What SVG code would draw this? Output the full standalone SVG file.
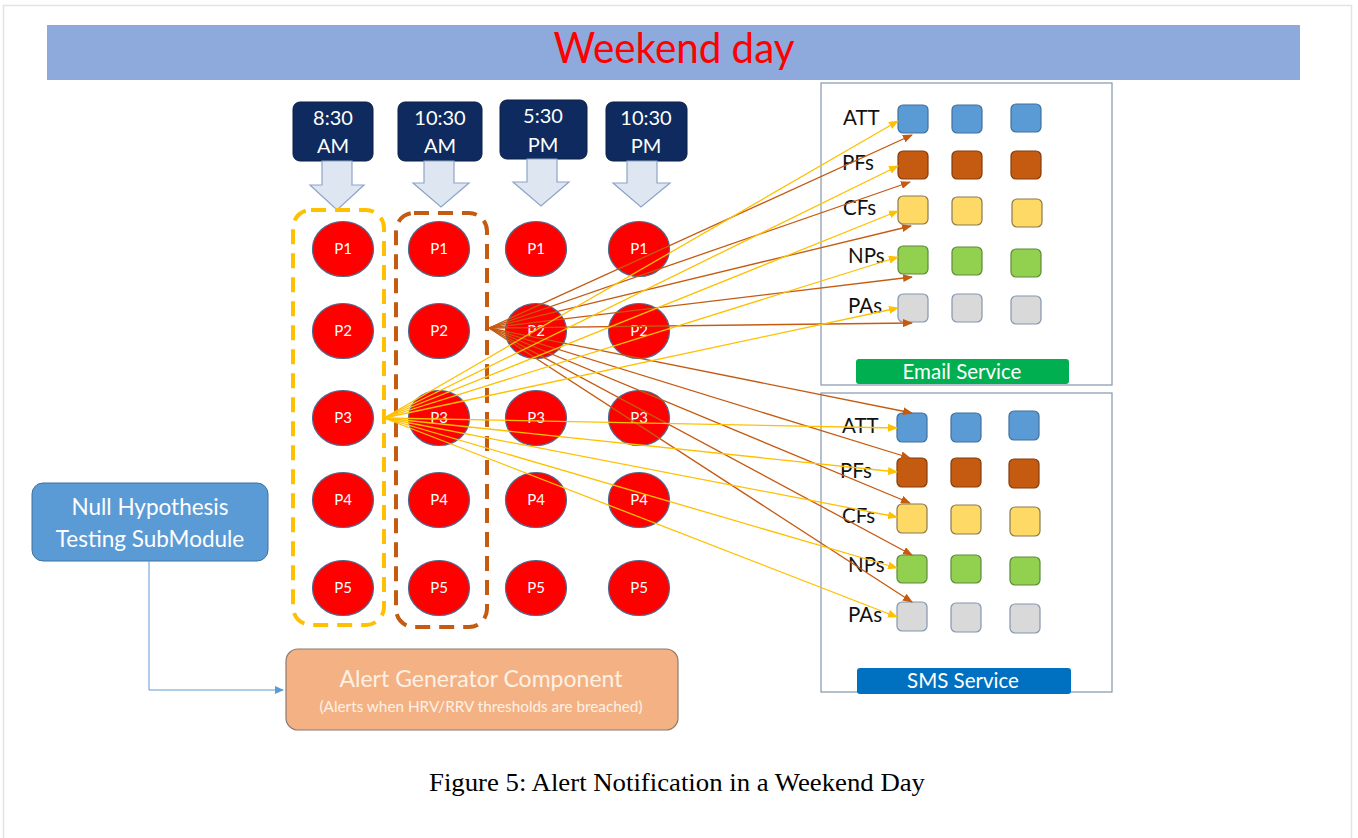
<svg xmlns="http://www.w3.org/2000/svg" width="1358" height="838" viewBox="0 0 1358 838">
  <defs>
    <style>
      .cal { font-family: Lato, "Open Sans", "Liberation Sans", sans-serif; }
      .tbox { fill: #0E2A5E; stroke: #0A1F47; stroke-width: 1; }
      .ttxt { fill: #FFFFFF; font-size: 20px; text-anchor: middle; }
      .darrow { fill: #DEE6F2; stroke: #8EA4C8; stroke-width: 1.2; }
      .pc { fill: #FF0000; stroke: #4F6A8F; stroke-width: 1.2; }
      .ptxt { fill: #FFFFFF; font-size: 15px; text-anchor: middle; }
      .panel { fill: #FFFFFF; stroke: #8497B0; stroke-width: 1.2; }
      .lbl { fill: #111111; font-size: 20.5px; }
      .sq { stroke-width: 1.2; }
      .att { fill: #5B9BD5; stroke: #41719C; }
      .pfs { fill: #C55A11; stroke: #843C0C; }
      .cfs { fill: #FFD966; stroke: #8A7A50; }
      .nps { fill: #92D050; stroke: #5E8A3A; }
      .pas { fill: #D9D9D9; stroke: #8497B0; }
      .yl { stroke: #FFC000; stroke-width: 1.3; fill: none; marker-end: url(#ah-y); }
      .br { stroke: #C55A11; stroke-width: 1.3; fill: none; marker-end: url(#ah-b); }
    </style>
    <marker id="ah-y" markerWidth="10" markerHeight="8" refX="9" refY="4" orient="auto" markerUnits="userSpaceOnUse">
      <path d="M0,0 L10,4 L0,8 Z" fill="#FFC000"/>
    </marker>
    <marker id="ah-b" markerWidth="10" markerHeight="8" refX="9" refY="4" orient="auto" markerUnits="userSpaceOnUse">
      <path d="M0,0 L10,4 L0,8 Z" fill="#C55A11"/>
    </marker>
    <marker id="ah-blue" markerWidth="9" markerHeight="8" refX="8" refY="4" orient="auto" markerUnits="userSpaceOnUse">
      <path d="M0,0 L9,4 L0,8 Z" fill="#5B9BD5"/>
    </marker>
  </defs>

  <!-- page frame -->
  <rect x="0" y="0" width="1358" height="838" fill="#FFFFFF"/>
  <rect x="3.5" y="5.5" width="1348" height="840" fill="none" stroke="#E3E3E3" stroke-width="1.5"/>

  <!-- title banner -->
  <g id="title">
    <rect x="47" y="25" width="1253" height="55" fill="#8EA9DB"/>
    <text x="674" y="63" class="cal" font-size="42" fill="#FF0000" text-anchor="middle" textLength="241" lengthAdjust="spacingAndGlyphs">Weekend day</text>
  </g>

  <!-- time slots -->
  <g id="t0830" class="cal">
    <rect class="tbox" x="293" y="102" width="80" height="59" rx="7"/>
    <text class="ttxt" x="333" y="125">8:30</text>
    <text class="ttxt" x="333" y="153">AM</text>
    <path class="darrow" d="M322,161 H352 V185 H364 L337,210 L310,185 H322 Z"/>
  </g>
  <g id="t1030am" class="cal">
    <rect class="tbox" x="398" y="102" width="84" height="59" rx="7"/>
    <text class="ttxt" x="440" y="125">10:30</text>
    <text class="ttxt" x="440" y="153">AM</text>
    <path class="darrow" d="M424,161 H454 V183 H469 L441,207 L413,183 H424 Z"/>
  </g>
  <g id="t0530pm" class="cal">
    <rect class="tbox" x="500" y="100" width="87" height="59" rx="7"/>
    <text class="ttxt" x="543" y="123">5:30</text>
    <text class="ttxt" x="543" y="152">PM</text>
    <path class="darrow" d="M527,159 H557 V182 H569 L541,206 L513,182 H527 Z"/>
  </g>
  <g id="t1030pm" class="cal">
    <rect class="tbox" x="606" y="102" width="81" height="59" rx="7"/>
    <text class="ttxt" x="646" y="125">10:30</text>
    <text class="ttxt" x="646" y="153">PM</text>
    <path class="darrow" d="M627,161 H657 V183 H670 L641,207 L613,183 H627 Z"/>
  </g>

  <!-- time slot groupings -->
  <g id="group-0830">
    <rect x="293" y="210" width="91" height="415" rx="18" fill="none" stroke="#FFC000" stroke-width="4" stroke-dasharray="15,9"/>
  </g>
  <g id="group-1030">
    <rect x="396" y="213" width="91" height="414" rx="18" fill="none" stroke="#C55A11" stroke-width="4" stroke-dasharray="15,9"/>
  </g>

  <!-- patients: column 8:30 AM -->
  <g id="c1" class="cal">
    <ellipse class="pc" cx="343" cy="249" rx="30.5" ry="27.5"/><text class="ptxt" x="343" y="254">P1</text>
    <ellipse class="pc" cx="343" cy="331" rx="30.5" ry="27.5"/><text class="ptxt" x="343" y="336">P2</text>
    <ellipse class="pc" cx="343" cy="418" rx="30.5" ry="27.5"/><text class="ptxt" x="343" y="423">P3</text>
    <ellipse class="pc" cx="343" cy="500" rx="30.5" ry="27.5"/><text class="ptxt" x="343" y="505">P4</text>
    <ellipse class="pc" cx="343" cy="588" rx="30.5" ry="27.5"/><text class="ptxt" x="343" y="593">P5</text>
  </g>
  <!-- patients: column 10:30 AM -->
  <g id="c2" class="cal">
    <ellipse class="pc" cx="439" cy="249" rx="30.5" ry="27.5"/><text class="ptxt" x="439" y="254">P1</text>
    <ellipse class="pc" cx="439" cy="331" rx="30.5" ry="27.5"/><text class="ptxt" x="439" y="336">P2</text>
    <ellipse class="pc" cx="439" cy="418" rx="30.5" ry="27.5"/><text class="ptxt" x="439" y="423">P3</text>
    <ellipse class="pc" cx="439" cy="500" rx="30.5" ry="27.5"/><text class="ptxt" x="439" y="505">P4</text>
    <ellipse class="pc" cx="439" cy="588" rx="30.5" ry="27.5"/><text class="ptxt" x="439" y="593">P5</text>
  </g>
  <!-- patients: column 5:30 PM -->
  <g id="c3" class="cal">
    <ellipse class="pc" cx="536" cy="249" rx="30.5" ry="27.5"/><text class="ptxt" x="536" y="254">P1</text>
    <ellipse class="pc" cx="536" cy="331" rx="30.5" ry="27.5"/><text class="ptxt" x="536" y="336">P2</text>
    <ellipse class="pc" cx="536" cy="418" rx="30.5" ry="27.5"/><text class="ptxt" x="536" y="423">P3</text>
    <ellipse class="pc" cx="536" cy="500" rx="30.5" ry="27.5"/><text class="ptxt" x="536" y="505">P4</text>
    <ellipse class="pc" cx="536" cy="588" rx="30.5" ry="27.5"/><text class="ptxt" x="536" y="593">P5</text>
  </g>
  <!-- patients: column 10:30 PM -->
  <g id="c4" class="cal">
    <ellipse class="pc" cx="639" cy="249" rx="30.5" ry="27.5"/><text class="ptxt" x="639" y="254">P1</text>
    <ellipse class="pc" cx="639" cy="331" rx="30.5" ry="27.5"/><text class="ptxt" x="639" y="336">P2</text>
    <ellipse class="pc" cx="639" cy="418" rx="30.5" ry="27.5"/><text class="ptxt" x="639" y="423">P3</text>
    <ellipse class="pc" cx="639" cy="500" rx="30.5" ry="27.5"/><text class="ptxt" x="639" y="505">P4</text>
    <ellipse class="pc" cx="639" cy="588" rx="30.5" ry="27.5"/><text class="ptxt" x="639" y="593">P5</text>
  </g>

  <!-- email service panel -->
  <g id="email" class="cal">
    <rect class="panel" x="821" y="83" width="291" height="302"/>
    <text class="lbl" x="843" y="125">ATT</text>
    <text class="lbl" x="842" y="170">PFs</text>
    <text class="lbl" x="843" y="215">CFs</text>
    <text class="lbl" x="848" y="263">NPs</text>
    <text class="lbl" x="848" y="313">PAs</text>
    <rect class="sq att" x="898" y="105" width="30" height="28" rx="5"/>
    <rect class="sq att" x="952" y="105" width="30" height="28" rx="5"/>
    <rect class="sq att" x="1011" y="104" width="30" height="28" rx="5"/>
    <rect class="sq pfs" x="898" y="151" width="30" height="28" rx="5"/>
    <rect class="sq pfs" x="952" y="151" width="30" height="28" rx="5"/>
    <rect class="sq pfs" x="1011" y="151" width="30" height="28" rx="5"/>
    <rect class="sq cfs" x="898" y="196" width="30" height="28" rx="5"/>
    <rect class="sq cfs" x="952" y="197" width="30" height="28" rx="5"/>
    <rect class="sq cfs" x="1012" y="199" width="30" height="28" rx="5"/>
    <rect class="sq nps" x="898" y="246" width="30" height="28" rx="5"/>
    <rect class="sq nps" x="952" y="247" width="30" height="28" rx="5"/>
    <rect class="sq nps" x="1011" y="249" width="30" height="28" rx="5"/>
    <rect class="sq pas" x="898" y="294" width="30" height="28" rx="5"/>
    <rect class="sq pas" x="952" y="294" width="30" height="28" rx="5"/>
    <rect class="sq pas" x="1011" y="296" width="30" height="28" rx="5"/>
    <rect x="856" y="359" width="213" height="25" rx="3" fill="#00B050"/>
    <text x="962" y="379" font-size="20.5" fill="#FFFFFF" text-anchor="middle">Email Service</text>
  </g>

  <!-- SMS service panel -->
  <g id="sms" class="cal">
    <rect class="panel" x="821" y="393" width="291" height="299"/>
    <text class="lbl" x="842" y="433">ATT</text>
    <text class="lbl" x="840" y="478">PFs</text>
    <text class="lbl" x="842" y="523">CFs</text>
    <text class="lbl" x="848" y="572">NPs</text>
    <text class="lbl" x="848" y="622">PAs</text>
    <rect class="sq att" x="897" y="413" width="30" height="29" rx="5"/>
    <rect class="sq att" x="951" y="413" width="30" height="29" rx="5"/>
    <rect class="sq att" x="1009" y="411" width="30" height="29" rx="5"/>
    <rect class="sq pfs" x="897" y="458" width="30" height="29" rx="5"/>
    <rect class="sq pfs" x="951" y="458" width="30" height="29" rx="5"/>
    <rect class="sq pfs" x="1009" y="459" width="30" height="29" rx="5"/>
    <rect class="sq cfs" x="897" y="504" width="30" height="29" rx="5"/>
    <rect class="sq cfs" x="951" y="505" width="30" height="29" rx="5"/>
    <rect class="sq cfs" x="1010" y="507" width="30" height="29" rx="5"/>
    <rect class="sq nps" x="897" y="555" width="30" height="28" rx="5"/>
    <rect class="sq nps" x="951" y="555" width="30" height="28" rx="5"/>
    <rect class="sq nps" x="1010" y="557" width="30" height="28" rx="5"/>
    <rect class="sq pas" x="897" y="602" width="30" height="29" rx="5"/>
    <rect class="sq pas" x="951" y="603" width="30" height="29" rx="5"/>
    <rect class="sq pas" x="1010" y="604" width="30" height="29" rx="5"/>
    <rect x="857" y="668" width="214" height="26" rx="3" fill="#0070C0"/>
    <text x="963" y="688" font-size="20.5" fill="#FFFFFF" text-anchor="middle">SMS Service</text>
  </g>

  <!-- null hypothesis testing submodule -->
  <g id="nullhyp" class="cal">
    <rect x="32" y="483" width="236" height="78" rx="11" fill="#5B9BD5" stroke="#41719C" stroke-width="1"/>
    <text x="150" y="515" font-size="22.5" fill="#FFFFFF" text-anchor="middle">Null Hypothesis</text>
    <text x="150" y="547" font-size="22.5" fill="#FFFFFF" text-anchor="middle">Testing SubModule</text>
  </g>

  <!-- alert generator component -->
  <g id="alertgen" class="cal">
    <rect x="286" y="649" width="392" height="81" rx="12" fill="#F4B183" stroke="#8C7B70" stroke-width="1.2"/>
    <text x="481" y="687" font-size="23" fill="#FDF1E6" text-anchor="middle" textLength="283" lengthAdjust="spacingAndGlyphs">Alert Generator Component</text>
    <text x="481" y="712" font-size="15" fill="#FDF1E6" text-anchor="middle" textLength="323" lengthAdjust="spacingAndGlyphs">(Alerts when HRV/RRV thresholds are breached)</text>
  </g>

  <!-- connectors -->
  <g id="connectors">
    <polyline points="149,561 149,690 283,690" fill="none" stroke="#5B9BD5" stroke-width="1" marker-end="url(#ah-blue)"/>

    <!-- 10:30 AM group, P2 -> services -->
    <line class="br" x1="489" y1="328" x2="912" y2="135"/>
    <line class="br" x1="489" y1="328" x2="910" y2="182"/>
    <line class="br" x1="489" y1="328" x2="911" y2="226"/>
    <line class="br" x1="489" y1="328" x2="912" y2="277"/>
    <line class="br" x1="489" y1="328" x2="912" y2="323"/>
    <line class="br" x1="489" y1="328" x2="912" y2="413"/>
    <line class="br" x1="489" y1="328" x2="910" y2="458"/>
    <line class="br" x1="489" y1="328" x2="910" y2="503"/>
    <line class="br" x1="489" y1="328" x2="912" y2="555"/>
    <line class="br" x1="489" y1="328" x2="912" y2="602"/>

    <!-- 8:30 AM group, P3 -> services -->
    <line class="yl" x1="384" y1="418" x2="898" y2="121"/>
    <line class="yl" x1="384" y1="418" x2="898" y2="166"/>
    <line class="yl" x1="384" y1="418" x2="898" y2="211"/>
    <line class="yl" x1="384" y1="418" x2="898" y2="257"/>
    <line class="yl" x1="384" y1="418" x2="898" y2="308"/>
    <line class="yl" x1="384" y1="418" x2="897" y2="428"/>
    <line class="yl" x1="384" y1="418" x2="897" y2="472"/>
    <line class="yl" x1="384" y1="418" x2="897" y2="517"/>
    <line class="yl" x1="384" y1="418" x2="897" y2="568"/>
    <line class="yl" x1="384" y1="418" x2="897" y2="617"/>
  </g>

  <!-- caption -->
  <text id="caption" x="677" y="791" font-family="'Liberation Serif', 'Times New Roman', serif" font-size="26" fill="#000000" text-anchor="middle" textLength="496" lengthAdjust="spacingAndGlyphs">Figure 5: Alert Notification in a Weekend Day</text>
</svg>
